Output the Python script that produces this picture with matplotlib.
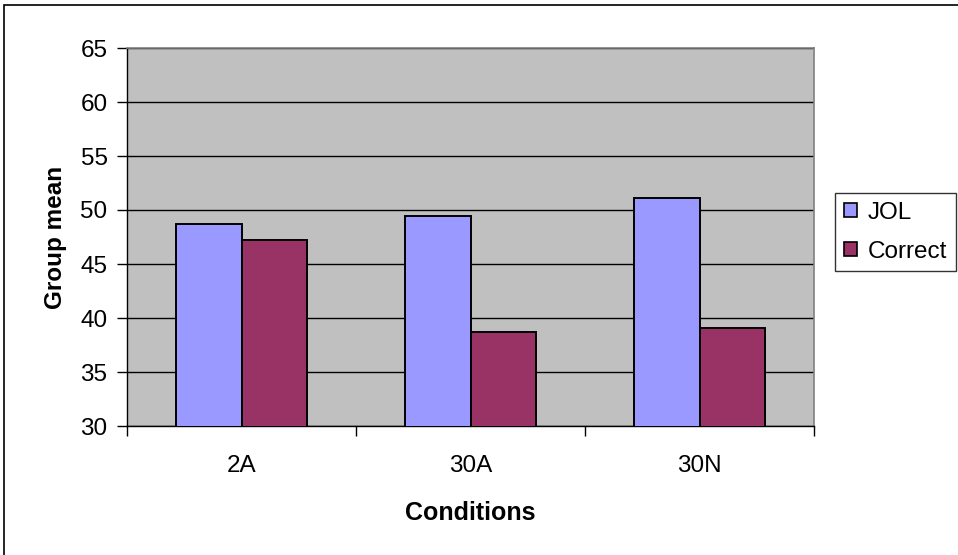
import matplotlib.pyplot as plt
import numpy as np
from matplotlib.patches import Patch, Rectangle

plt.rcParams['font.family'] = ['Liberation Sans', 'DejaVu Sans']

conditions = ['2A', '30A', '30N']
jol_means = [48.7, 49.4, 51.1]
correct_means = [47.2, 38.7, 39.05]
series_names = ['JOL', 'Correct']
series_colors = ['#9999FF', '#993366']

W, H = 958, 555
FS = 17.5

fig = plt.figure(figsize=(W / 100, H / 100), dpi=100)
fig.patch.set_facecolor('white')

# outer chart frame (only left/top edges fall inside the image)
fig.patches.append(Rectangle((4 / W, -0.1), 1.2, (H - 5) / H + 0.1, transform=fig.transFigure,
                             fill=False, edgecolor='black', linewidth=1.2))

ax = fig.add_axes([127 / W, (H - 426) / H, 687 / W, 378 / H])
ax.set_facecolor('#C0C0C0')

x = np.arange(len(conditions))
width = 0.284
ax.bar(x - width / 2, jol_means, width, color=series_colors[0], edgecolor='black', linewidth=1.4, zorder=3)
ax.bar(x + width / 2, correct_means, width, color=series_colors[1], edgecolor='black', linewidth=1.4, zorder=3)

ax.set_xlim(-0.5, len(conditions) - 0.5)
ax.set_ylim(30, 65)
ax.set_yticks(np.arange(30, 66, 5))
ax.yaxis.grid(True, color='black', linewidth=1.0, zorder=1)
ax.set_axisbelow(True)

# category ticks sit on the boundaries between groups
ax.set_xticks(np.arange(-0.5, len(conditions), 1.0))
ax.set_xticklabels([])
ax.set_xticks(x, minor=True)
ax.set_xticklabels(conditions, minor=True)
ax.tick_params(axis='x', which='minor', length=0, pad=21, labelsize=FS)
ax.tick_params(axis='x', which='major', length=7, width=1, color='black', direction='out')
ax.tick_params(axis='y', length=7, width=1, color='black', direction='out', pad=7, labelsize=FS)

for side in ['top', 'right']:
    ax.spines[side].set_color('#808080')
    ax.spines[side].set_linewidth(1.2)
for side in ['left', 'bottom']:
    ax.spines[side].set_color('black')
    ax.spines[side].set_linewidth(1.0)

ax.set_ylabel('Group mean', fontsize=FS, fontweight='bold', labelpad=10)
ax.set_xlabel('Conditions', fontsize=FS + 0.5, fontweight='bold', labelpad=17)

handles = [Patch(facecolor=c, edgecolor='black', linewidth=1.2) for c in series_colors]
leg = fig.legend(handles, series_names, loc='upper left', bbox_to_anchor=(835 / W, (H - 193) / H),
                 fontsize=FS, frameon=True, fancybox=False, edgecolor='black',
                 handlelength=0.55, handleheight=0.55, handletextpad=0.45, borderpad=0.35,
                 labelspacing=0.7, borderaxespad=0)
leg.get_frame().set_linewidth(1.0)

fig.savefig('out.png', dpi=100)
